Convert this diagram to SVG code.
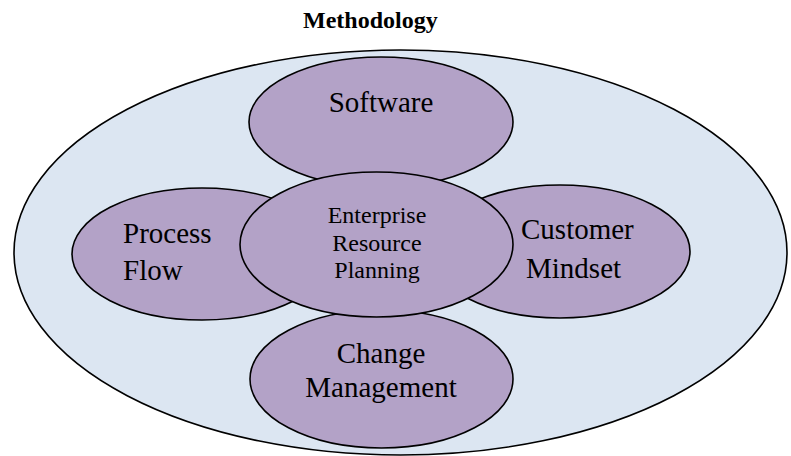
<svg xmlns="http://www.w3.org/2000/svg" width="791" height="456" viewBox="0 0 791 456">
<style>
  .outer { fill: #dce6f2; stroke: #000; stroke-width: 1.6; }
  .petal { fill: #b3a2c7; stroke: #000; stroke-width: 1.6; }
  .lbl { font-family: "Liberation Serif", "Times New Roman", serif; font-size: 29px; fill: #000; }
  .small { font-size: 24px; }
  .title { font-family: "Liberation Serif", "Times New Roman", serif; font-size: 24px; font-weight: bold; fill: #000; }
</style>
<rect width="791" height="456" fill="#ffffff"/>
<text class="title" x="303" y="28">Methodology</text>
<g id="methodology">
  <ellipse class="outer" cx="400.5" cy="252.5" rx="386.5" ry="202.5"/>
</g>
<g id="connectors"></g>
<g id="software">
  <ellipse class="petal" cx="381" cy="122" rx="132" ry="65"/>
  <text class="lbl" x="381" y="112" text-anchor="middle">Software</text>
</g>
<g id="process-flow">
  <ellipse class="petal" cx="202" cy="254" rx="130" ry="66"/>
  <text class="lbl" x="123" y="243">Process</text>
  <text class="lbl" x="123" y="280">Flow</text>
</g>
<g id="customer-mindset">
  <ellipse class="petal" cx="560" cy="251.5" rx="130" ry="66.5"/>
  <text class="lbl" x="521" y="239">Customer</text>
  <text class="lbl" x="526" y="278">Mindset</text>
</g>
<g id="change-management">
  <ellipse class="petal" cx="381.5" cy="379" rx="131.5" ry="69"/>
  <text class="lbl" x="381" y="363" text-anchor="middle">Change</text>
  <text class="lbl" x="381" y="397" text-anchor="middle">Management</text>
</g>
<g id="erp">
  <ellipse class="petal" cx="376.5" cy="244.5" rx="136.5" ry="72.5"/>
  <text class="lbl small" x="377" y="223" text-anchor="middle">Enterprise</text>
  <text class="lbl small" x="377" y="251" text-anchor="middle">Resource</text>
  <text class="lbl small" x="377" y="278" text-anchor="middle">Planning</text>
</g>
</svg>
